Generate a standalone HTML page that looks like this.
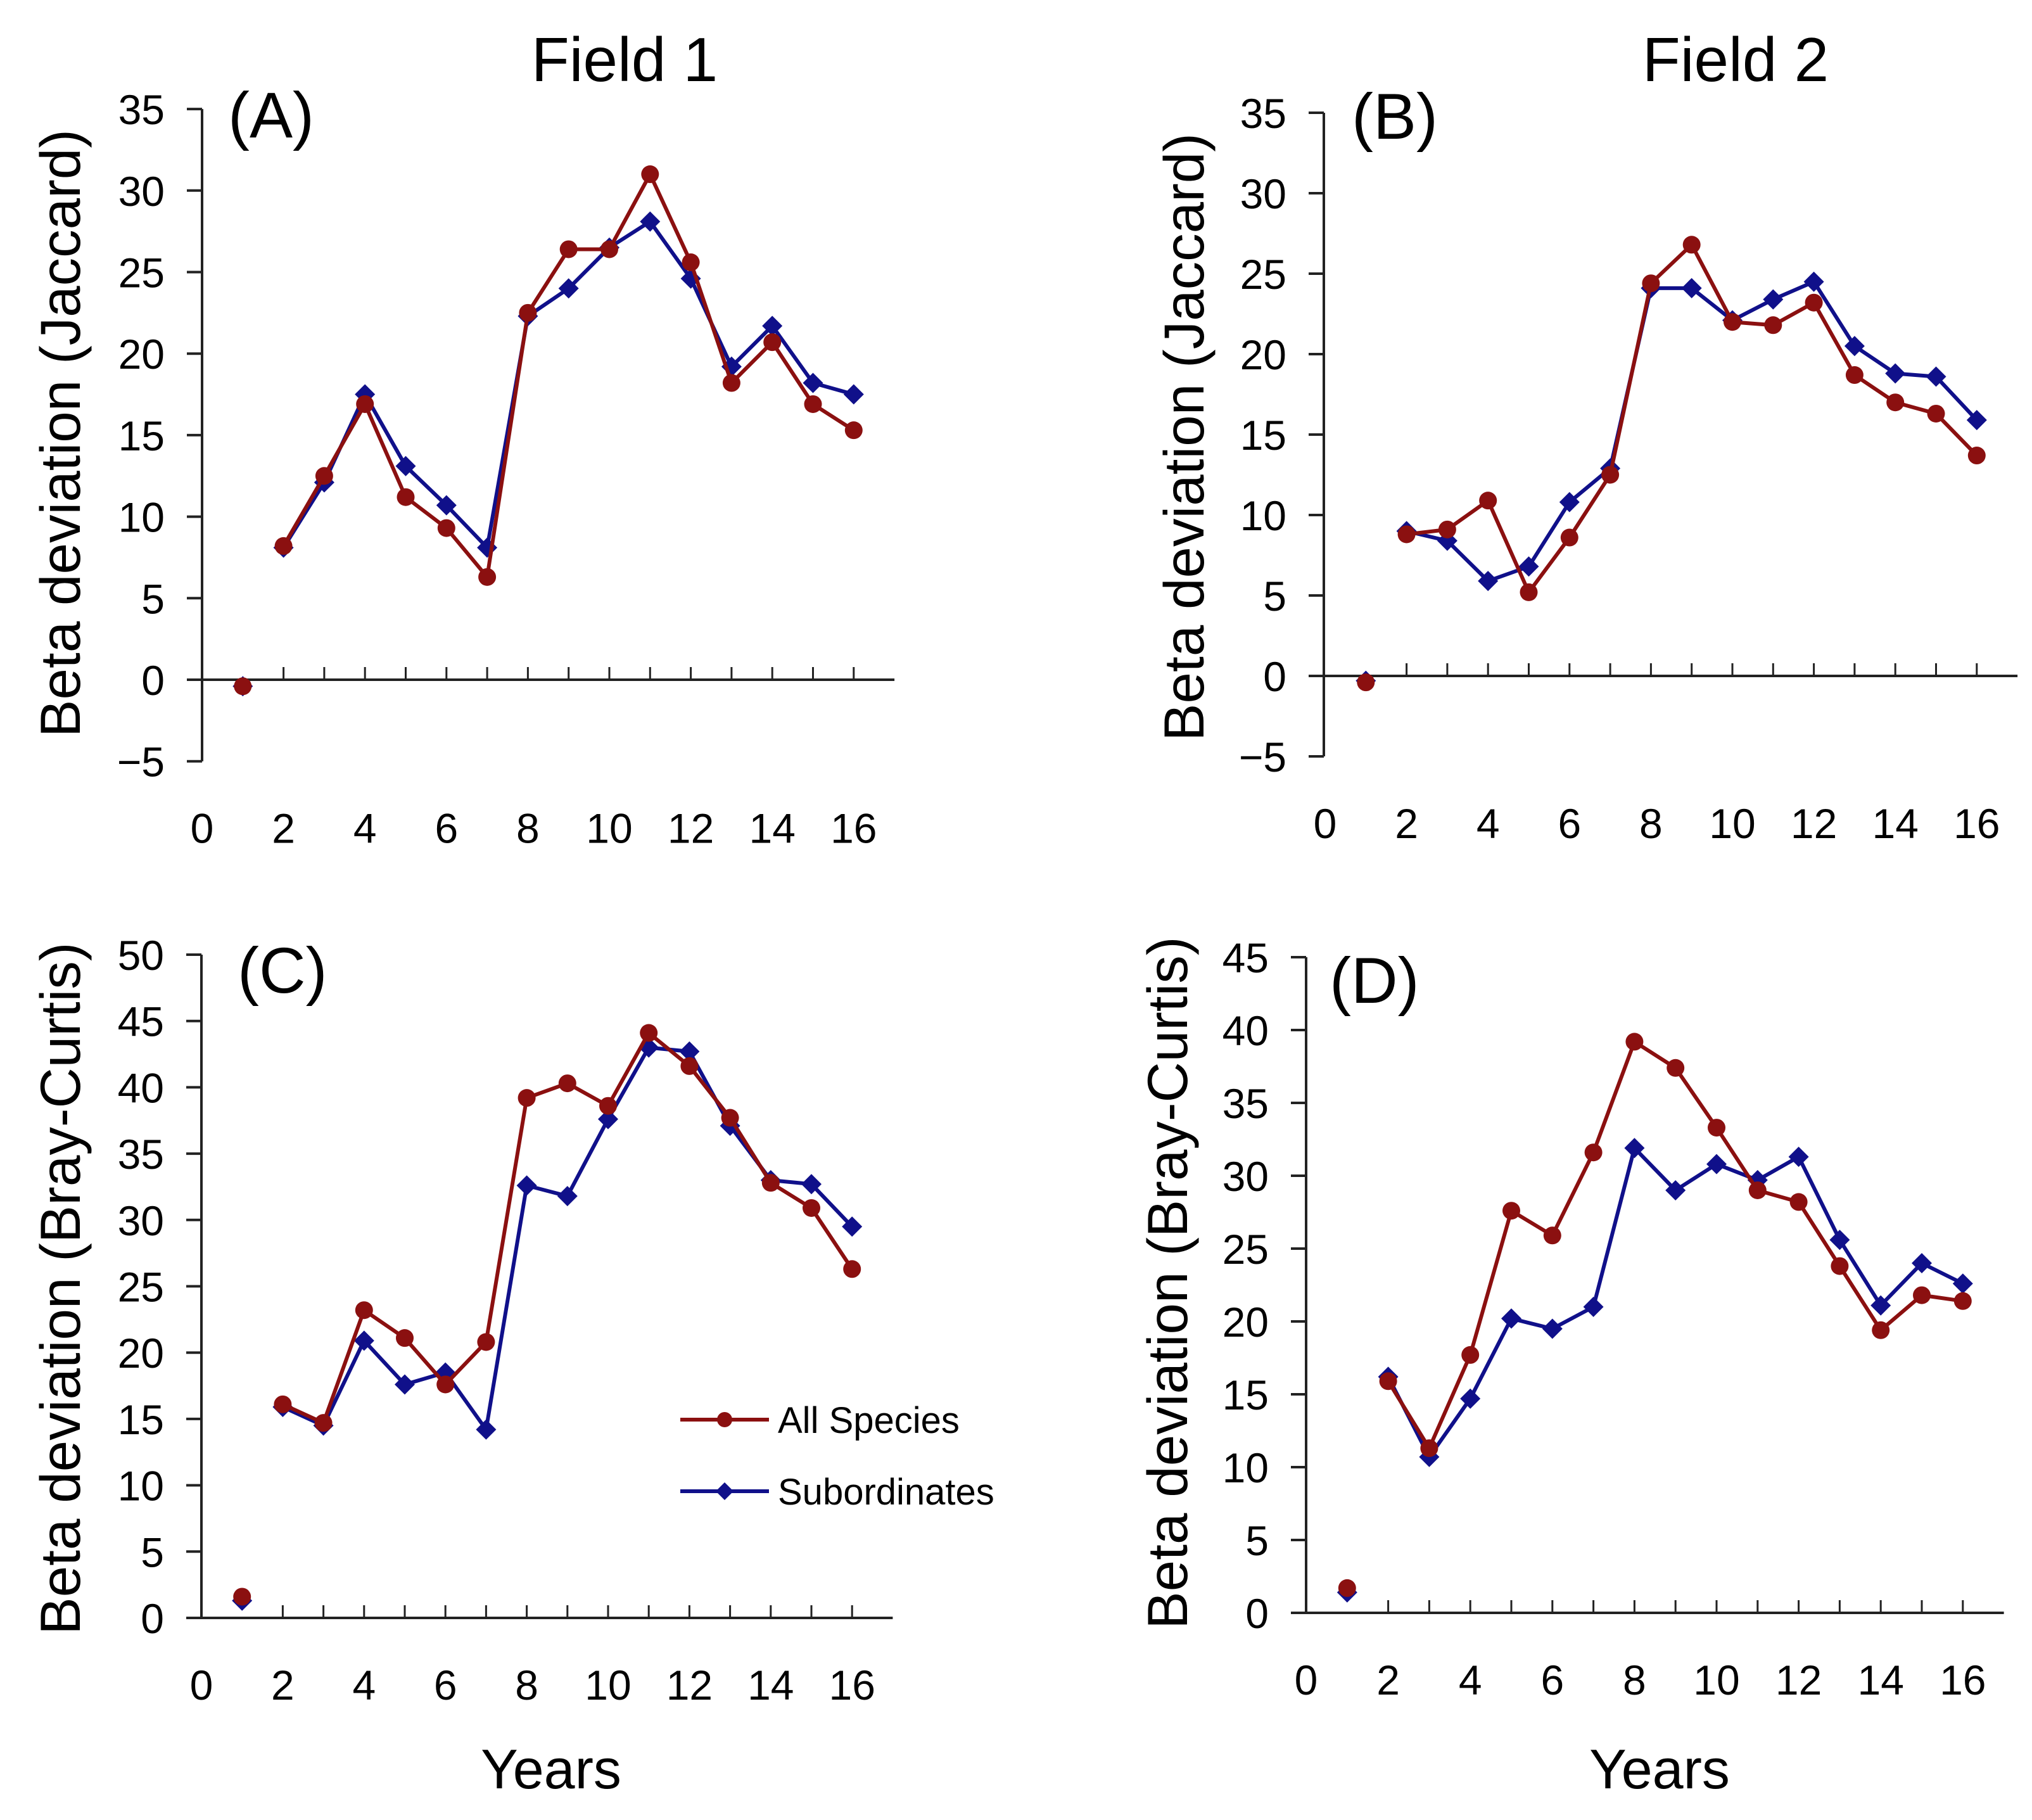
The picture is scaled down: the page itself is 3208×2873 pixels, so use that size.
<!DOCTYPE html>
<html><head><meta charset="utf-8">
<style>
html,body{margin:0;padding:0;background:#fff;}
svg{display:block;font-family:"Liberation Sans",Arial,sans-serif;}
</style></head>
<body>
<svg id="fig" width="3208" height="2873" viewBox="0 0 3208 2873" xmlns="http://www.w3.org/2000/svg">
<rect width="3208" height="2873" fill="#fff"/>
<text x="986" y="128" font-size="98" text-anchor="middle">Field 1</text>
<text x="2740" y="128" font-size="98" text-anchor="middle">Field 2</text>
<g id="legend">
  <line x1="1074" y1="2241" x2="1214" y2="2241" stroke="#8b1010" stroke-width="6"/>
  <circle cx="1144" cy="2241" r="12" fill="#8b1010"/>
  <text x="1228" y="2262" font-size="58">All Species</text>
  <line x1="1074" y1="2354" x2="1214" y2="2354" stroke="#10108a" stroke-width="6"/>
  <polygon points="1144,2340 1158,2354 1144,2368 1130,2354" fill="#10108a"/>
  <text x="1228" y="2375" font-size="58">Subordinates</text>
</g>
</svg>
<script>
const years = [1,2,3,4,5,6,7,8,9,10,11,12,13,14,15,16];
const xTickLabels = [0,2,4,6,8,10,12,14,16];
const aAll = [-0.4,8.2,12.5,16.9,11.2,9.3,6.3,22.5,26.4,26.4,31.0,25.6,18.2,20.7,16.9,15.3];
const aSub = [-0.4,8.1,12.1,17.5,13.1,10.7,8.1,22.3,24.0,26.5,28.1,24.6,19.2,21.7,18.2,17.5];
const bAll = [-0.4,8.8,9.1,10.9,5.2,8.6,12.5,24.4,26.8,22.0,21.8,23.2,18.7,17.0,16.3,13.7];
const bSub = [-0.3,9.0,8.4,5.9,6.8,10.8,12.9,24.1,24.1,22.1,23.4,24.5,20.5,18.8,18.6,15.9];
const cAll = [1.6,16.1,14.7,23.2,21.1,17.6,20.8,39.2,40.3,38.6,44.1,41.6,37.7,32.8,30.9,26.3];
const cSub = [1.3,15.9,14.5,20.9,17.6,18.5,14.2,32.6,31.8,37.6,43.0,42.7,37.1,33.0,32.7,29.5];
const dAll = [1.7,15.9,11.3,17.7,27.6,25.9,31.6,39.2,37.4,33.3,29.0,28.2,23.8,19.4,21.8,21.4];
const dSub = [1.4,16.2,10.7,14.7,20.2,19.5,21.0,31.9,29.0,30.8,29.7,31.3,25.6,21.1,24.0,22.6];
const jaccardTicks = [-5,0,5,10,15,20,25,30,35];
const cTicks = [0,5,10,15,20,25,30,35,40,45,50];
const dTicks = [0,5,10,15,20,25,30,35,40,45];

const NS = "http://www.w3.org/2000/svg";
const svg = document.getElementById('fig');
const legend = document.getElementById('legend');
const RED="#8b1010", BLUE="#10108a";

function panel(cfg){
  const g = document.createElementNS(NS,'g');
  
  
  svg.insertBefore(g, legend);
  function add(tag, attrs){ const e=document.createElementNS(NS,tag); for(const k in attrs) e.setAttribute(k,attrs[k]); g.appendChild(e); return e; }
  const sx = v => cfg.x0 + v*cfg.px;
  const sy = v => cfg.y0 - v*cfg.py;
  const ymin = cfg.yt[0], ymax = cfg.yt[cfg.yt.length-1];
  const ya = add('line',{x1:cfg.ax,y1:sy(ymax),x2:cfg.ax,y2:sy(ymin),stroke:'#222','stroke-width':4});
  
  
  cfg.yt.forEach(t=>{
    add('line',{x1:cfg.ax-24,y1:sy(t),x2:cfg.ax,y2:sy(t),stroke:'#222','stroke-width':4});
    const tx = add('text',{x:cfg.ax-59,y:sy(t)+24,'font-size':66,'text-anchor':'end'});
    tx.textContent = t<0 ? '\u2212'+Math.abs(t) : String(t);
    
    
  });
  const xa = add('line',{x1:cfg.ax,y1:sy(0),x2:sx(17),y2:sy(0),stroke:'#222','stroke-width':4});
  
  
  for(let k=2;k<=16;k++){
    add('line',{x1:sx(k),y1:sy(0),x2:sx(k),y2:sy(0)-20,stroke:'#222','stroke-width':3});
  }
  xTickLabels.forEach(t=>{
    const tx = add('text',{x:sx(t),y:sy(ymin)+105+24,'font-size':66,'text-anchor':'middle'});
    tx.textContent = String(t);
    
    
  });
  [[cfg.sub,BLUE,'subordinates'],[cfg.all,RED,'all-species']].forEach(([vals,col,nm])=>{
    let d='';
    for(let i=1;i<years.length;i++) d += (i===1?'M':'L')+sx(years[i])+','+sy(vals[i]);
    const p = add('path',{d:d,fill:'none',stroke:col,'stroke-width':6,'stroke-linejoin':'round'});
    
    
    years.forEach((yr,i)=>{
      const cx=sx(yr), cy=sy(vals[i]);
      let m;
      if(col===RED) m = add('circle',{cx:cx,cy:cy,r:14,fill:col});
      else m = add('polygon',{points:`${cx},${cy-16} ${cx+16},${cy} ${cx},${cy+16} ${cx-16},${cy}`,fill:col});
      
      
    });
  });
  const lab = add('text',{x:cfg.lx,y:cfg.ly,'font-size':102});
  lab.textContent = cfg.label;
  
  
  const yt = add('text',{transform:`translate(${cfg.tx},${cfg.ty}) rotate(-90)`,'font-size':89,'text-anchor':'middle'});
  yt.textContent = cfg.title;
  
  
  if(cfg.years){
    const xt = add('text',{x:cfg.years[0],y:cfg.years[1],'font-size':88,'text-anchor':'middle'});
    xt.textContent = 'Years';
    
    
  }
}

panel({name:'panel-a',ax:319,x0:319,px:64.3,y0:1073,py:128.7/5,yt:jaccardTicks,all:aAll,sub:aSub,label:'(A)',lx:360,ly:217,title:'Beta deviation (Jaccard)',tx:126,ty:684});
panel({name:'panel-b',ax:2090,x0:2092,px:64.3,y0:1067,py:127/5,yt:jaccardTicks,all:bAll,sub:bSub,label:'(B)',lx:2134,ly:219,title:'Beta deviation (Jaccard)',tx:1900,ty:690});
panel({name:'panel-c',ax:318,x0:318,px:64.2,y0:2554,py:104.7/5,yt:cTicks,all:cAll,sub:cSub,label:'(C)',lx:375,ly:1567,title:'Beta deviation (Bray-Curtis)',tx:126,ty:2034,years:[870,2823]});
panel({name:'panel-d',ax:2062,x0:2062,px:64.8,y0:2546,py:115/5,yt:dTicks,all:dAll,sub:dSub,label:'(D)',lx:2099,ly:1583,title:'Beta deviation (Bray-Curtis)',tx:1874,ty:2025,years:[2620,2823]});
</script>
</body></html>
